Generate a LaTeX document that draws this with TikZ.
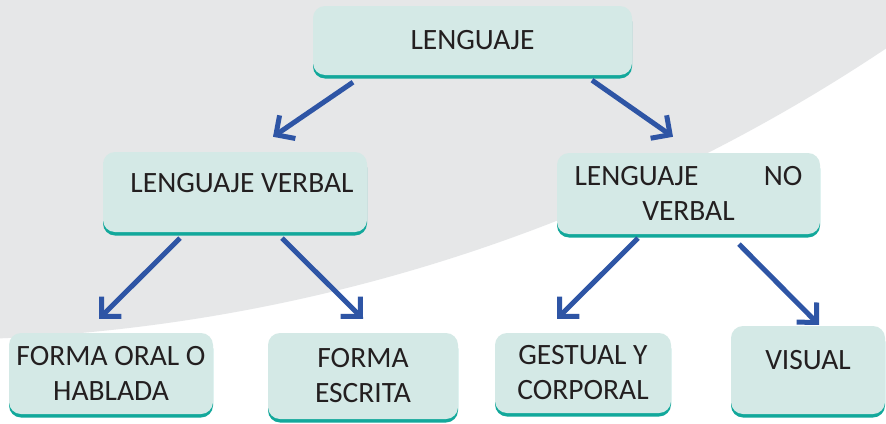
\documentclass[tikz,border=0pt]{standalone}
\usepackage{fontspec}
\setmainfont{Carlito}
\usetikzlibrary{arrows.meta,shadows,calc}
\definecolor{bg}{HTML}{E6E7E8}
\definecolor{boxfill}{HTML}{D4E9E6}
\definecolor{tealc}{HTML}{12A89B}
\definecolor{arrowblue}{HTML}{2E55A5}
\definecolor{txtc}{HTML}{231F20}
\begin{document}
\begin{tikzpicture}[x=1pt,y=-1pt,
  box/.style={rectangle, rounded corners=12pt, fill=boxfill, text=txtc, align=center,
    inner sep=0pt, font=\fontsize{29.5}{35}\selectfont,
    drop shadow={shadow xshift=0pt, shadow yshift=-3.5pt, fill=tealc, opacity=1}},
  arr/.style={draw=arrowblue, line width=5pt, -{Straight Barb[length=14pt,width=28pt]}}]
\useasboundingbox (0,0) rectangle (886,423);
\fill[white] (0,0) rectangle (886,423);
\begin{scope}
  \clip (0,0) rectangle (886,423);
  \fill[bg] (-76,-1392) circle[radius=1732pt];
\end{scope}

\node[box, minimum width=319pt, minimum height=69pt] (root) at (472.5,40.5) {LENGUAJE};
\node[box, minimum width=264pt, minimum height=80pt, text height=18.5pt, text depth=18.5pt] (lv) at (235,192) {\hspace*{14pt}LENGUAJE VERBAL};
\node[box, minimum width=263pt, minimum height=81pt] (lnv) at (688.5,193.5) {\makebox[228pt]{LENGUAJE\hfill NO}\\VERBAL};
\node[box, minimum width=204pt, minimum height=81pt] (foh) at (111,373.5) {FORMA ORAL O\\HABLADA};
\node[box, minimum width=190pt, minimum height=86pt] (fe) at (363,376) {FORMA\\ESCRITA};
\node[box, minimum width=176pt, minimum height=80pt] (gc) at (583,373) {GESTUAL Y\\CORPORAL};
\node[box, minimum width=154pt, minimum height=88pt, text height=18.5pt, text depth=20.5pt] (vis) at (808,370) {VISUAL};

\draw[arr] ($(root.south)+(-119.5,7)$) -- ($(lv.north)+(38,-15)$);
\draw[arr] ($(root.south)+(119.5,5)$) -- ($(lnv.north)+(-15.5,-16)$);
\draw[arr] ($(lv.south)+(-55,6)$) -- ($(foh.north)+(-12,-14)$);
\draw[arr] ($(lv.south)+(47,6)$) -- ($(fe.north)+(0,-14)$);
\draw[arr] ($(lnv.south)+(-50.5,4)$) -- ($(gc.north)+(-26,-14)$);
\draw[arr] ($(lnv.south)+(50.5,10)$) -- ($(vis.north)+(11,-1)$);
\end{tikzpicture}
\end{document}
